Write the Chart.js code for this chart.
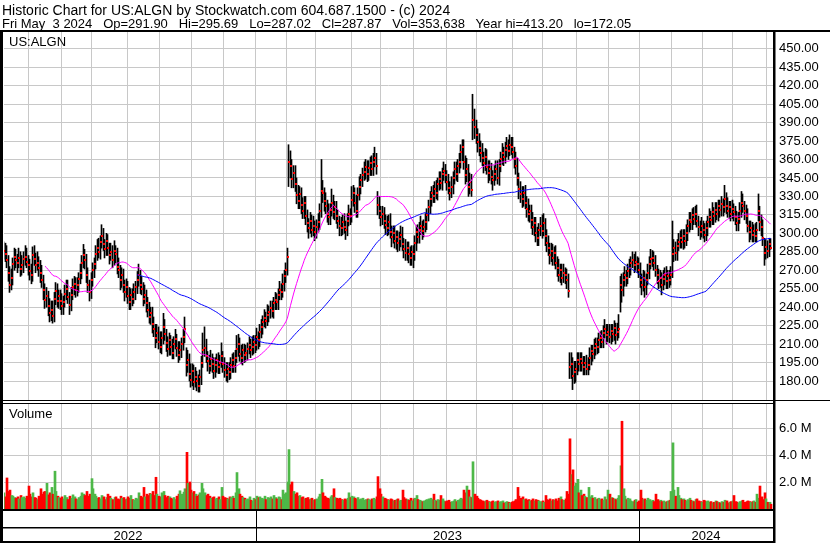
<!DOCTYPE html>
<html lang="en">
<head>
  <meta charset="UTF-8">
  <title>Historic Chart for US:ALGN</title>
  <script src="https://cdn.jsdelivr.net/npm/chart.js"></script>
  <style>
    body { margin: 0; background: #fff; }
    #wrap { position: relative; width: 830px; height: 543px; overflow: hidden; }
    #chart { position: absolute; left: 0; top: 0; }
    .head { position: absolute; left: 2px; font-family: "Liberation Sans", Arial, sans-serif; line-height: 14px; white-space: pre; color: #000; }
    .l1 { top: 2.5px; font-size: 14px; }
    .l2 { top: 16.5px; font-size: 13px; }
  </style>
</head>
<body>
<div id="wrap">
  <canvas id="chart" width="830" height="543"></canvas>
  <div class="head l1">Historic Chart for US:ALGN by Stockwatch.com 604.687.1500 - (c) 2024</div>
  <div class="head l2">Fri May  3 2024   Op=291.90   Hi=295.69   Lo=287.02   Cl=287.87   Vol=353,638   Year hi=413.20   lo=172.05</div>
</div>
<script>
// daily bars from 2022-05-04 to 2024-05-03
const closes = [
  285,283,286,283,278,268,258,264,275,281, 278,276,280,271,274,279,281,277,274,269,
  266,282,279,274,276,272,268,262,254,246, 249,241,235,238,233,247,253,245,249,245,
  241,244,251,255,248,242,250,256,259,254, 258,263,268,276,282,278,266,258,252,262,
  270,275,283,288,285,293,298,291,287,294, 288,282,285,278,286,283,273,270,262,266,
  258,252,256,249,244,250,247,252,256,262, 266,258,255,247,250,243,238,232,235,226,
  222,215,219,212,208,215,224,218,211,206, 213,208,203,210,214,207,201,205,210,216,
  222,193,197,186,181,188,179,183,180,176, 183,195,205,207,200,196,192,198,194,188,
  193,197,191,195,200,194,189,185,190,187, 193,197,192,199,206,210,202,199,205,201,
  203,206,209,205,208,212,209,216,213,220, 224,228,231,229,234,236,239,237,243,246,
  244,250,254,252,259,265,270,281,358,355, 344,349,340,331,326,332,323,318,325,314,
  308,304,310,303,306,301,305,309,318,334, 333,326,322,316,313,319,325,317,321,314,
  310,306,304,309,305,303,310,316,314,327, 333,325,318,331,338,343,347,350,354,348,
  353,357,352,358,361,355,323,318,313,316, 310,307,304,309,301,297,300,294,297,292,
  295,299,291,287,284,288,283,280,285,283, 292,301,297,303,306,302,305,309,315,321,
  328,333,330,336,333,340,344,341,348,351, 347,342,337,333,338,345,352,348,355,358,
  366,370,358,347,352,338,342,335,392,386, 380,374,369,365,361,357,362,354,349,352,
  346,343,348,352,345,355,360,365,362,368, 371,367,372,370,366,360,355,345,336,332,
  328,333,325,320,316,318,311,305,308,300, 296,303,306,302,308,298,292,288,282,286,
  280,284,276,272,266,270,264,268,266,262, 253,191,194,184,187,190,197,194,198,195,
  191,195,190,193,199,204,202,207,210,208, 213,215,212,219,222,217,220,216,221,218,
  223,217,220,222,258,254,262,266,264,269, 272,276,278,274,277,275,270,262,258,264,
  256,262,268,275,279,280,276,270,266,261, 264,258,263,266,261,265,262,266,283,288,
  284,290,293,296,293,298,294,300,306,311, 309,315,312,316,310,305,301,306,303,299,
  304,309,313,311,317,314,319,316,322,319, 324,321,328,322,318,321,316,320,317,313,
  308,312,318,325,322,318,314,306,301,304, 299,302,298,303,318,309,305,296,284,289,
  286,291,287.87
];
const highs = [
  293,290,293,292,290,282,273,271,280,288, 287,283,288,285,282,285,290,288,282,279,
  275,289,290,284,285,281,278,274,266,259, 256,253,247,245,245,252,260,259,254,254,
  251,249,258,262,262,252,256,263,265,264, 264,268,275,282,291,287,283,272,262,268,
  276,280,290,295,296,298,307,304,295,300, 299,292,292,290,294,290,288,280,274,272,
  271,262,263,261,256,255,255,259,261,269, 275,270,265,260,258,254,248,244,240,240,
  232,226,226,224,220,220,235,230,222,216, 219,217,214,216,222,218,212,212,215,222,
  232,207,205,202,194,194,193,191,188,185, 189,200,219,224,214,204,201,205,202,199,
  199,202,203,201,211,204,199,195,195,195, 199,202,203,205,217,218,215,209,210,210,
  209,211,216,214,216,217,217,223,220,226, 230,233,238,236,242,241,245,245,248,252,
  251,255,261,259,267,270,276,288,372,367, 360,355,355,345,339,338,337,329,330,330,
  319,312,317,315,314,310,311,316,324,360, 343,337,333,327,324,324,336,331,326,326,
  319,314,313,315,316,310,316,323,320,338, 339,337,331,337,346,348,353,358,360,359,
  359,362,363,365,370,365,334,330,322,322, 321,315,314,315,316,306,306,306,302,302,
  301,306,305,296,295,293,293,289,290,290, 298,306,307,309,314,310,311,316,320,327,
  334,338,339,342,343,345,350,350,353,358, 356,351,348,342,346,350,358,358,360,365,
  372,376,376,363,361,356,349,348,413,401, 392,385,381,375,373,366,369,368,359,359,
  357,351,355,359,359,360,366,373,370,374, 378,376,380,378,378,370,366,361,349,342,
  338,338,339,330,328,323,323,317,313,313, 305,308,313,315,316,312,303,298,292,292,
  291,289,290,281,279,275,275,275,272,271, 267,203,203,199,196,196,203,203,203,203,
  200,200,201,199,207,209,209,214,215,215, 219,220,221,225,230,226,226,226,226,226,
  229,227,227,234,265,267,268,273,270,275, 279,281,285,283,285,281,280,276,267,270,
  269,267,275,281,287,286,285,282,274,271, 270,268,270,272,273,270,270,273,310,295,
  293,295,300,302,303,303,303,307,311,317, 317,320,321,322,323,314,310,313,310,308,
  310,314,320,318,325,321,325,325,327,327, 330,328,339,333,329,326,326,327,324,322,
  318,317,325,334,332,326,323,320,310,310, 309,307,308,309,332,322,315,311,296,295,
  294,296,295.69
];
const lows = [
  277,275,279,277,272,261,252,254,258,270, 272,268,272,265,266,268,274,272,266,262,
  259,261,274,268,270,265,260,256,246,239, 240,233,228,229,227,228,242,240,239,238,
  234,234,240,246,243,234,237,246,250,248, 249,252,259,263,272,271,260,252,245,247,
  257,264,271,278,280,279,288,286,280,282, 282,275,278,272,274,276,267,264,254,256,
  252,245,248,243,238,238,241,243,246,251, 257,251,250,241,243,236,232,227,226,219,
  216,207,211,206,203,202,210,213,204,200, 201,201,198,198,206,200,195,197,199,205,
  211,184,187,180,175,176,173,175,172,171, 171,177,191,200,195,188,186,188,187,182,
  183,187,186,186,191,187,183,180,179,181, 182,187,187,187,195,200,196,194,193,195,
  196,197,202,199,201,202,203,205,206,208, 215,218,224,223,225,228,231,232,231,238,
  238,238,246,246,248,253,260,266,338,345, 337,337,334,324,320,320,316,312,312,307,
  301,296,300,297,298,294,296,301,303,313, 325,318,316,309,307,307,314,312,311,308,
  304,298,298,299,300,295,298,306,307,309, 322,317,313,313,327,332,338,343,344,342,
  343,347,347,347,354,348,315,312,306,307, 304,299,298,299,296,289,292,288,287,285,
  286,289,286,280,278,278,276,274,274,272, 278,286,292,292,299,295,297,301,303,310,
  316,322,325,325,328,327,335,336,335,343, 341,335,332,327,329,332,340,343,342,349,
  353,359,352,340,342,330,332,330,376,377, 373,366,363,358,355,349,351,348,341,343,
  340,335,339,343,340,339,350,356,355,357, 362,360,363,364,361,353,348,339,328,325,
  321,322,320,313,310,309,304,299,298,293, 290,290,298,296,298,290,285,282,275,277,
  274,274,271,265,261,260,258,260,259,255, 248,182,182,173,178,179,185,188,188,188,
  185,185,185,185,189,193,196,198,201,202, 203,207,207,207,215,210,212,211,210,212,
  213,210,213,215,236,244,249,257,257,259, 264,266,272,268,270,268,264,256,250,253,
  248,250,258,263,271,273,270,265,259,255, 256,250,254,258,255,255,256,258,264,277,
  278,278,286,288,288,287,288,290,294,301, 303,303,307,307,305,298,295,297,296,293,
  294,298,305,305,307,307,309,311,310,313, 314,314,317,316,313,312,310,312,310,307,
  302,302,308,313,317,311,308,301,293,295, 293,293,293,293,310,302,298,290,274,279,
  280,281,287.02
];
// volume in units of 10,000 shares
const volumes = [
  110,95,120,90,230,130,140,100,95,85, 80,90,75,100,85,90,80,95,170,110,
  90,120,85,80,70,95,150,110,125,130, 190,105,120,160,110,280,130,95,85,80,
  90,75,100,85,70,95,80,105,90,75, 70,85,95,120,110,100,130,95,110,225,
  150,110,95,80,85,75,100,90,70,85, 110,95,80,70,85,90,75,70,95,80,
  85,70,75,90,80,100,70,65,80,75, 120,95,85,160,90,110,100,115,110,130,
  100,235,110,95,90,120,130,100,85,95, 90,80,75,85,70,95,110,135,110,125,
  150,420,190,200,140,120,130,110,95,105, 120,190,150,120,100,110,95,80,85,90,
  75,80,90,70,160,95,85,80,75,90, 85,95,80,120,270,150,110,95,85,80,
  70,75,90,65,60,80,70,95,85,90, 80,75,95,70,85,80,90,75,100,85,
  75,90,85,70,140,110,120,200,440,180, 200,130,110,120,95,100,85,90,75,80,
  85,70,75,80,65,70,75,90,110,220, 120,95,85,80,75,90,100,150,85,80,
  75,80,70,65,75,70,80,120,85,95, 90,80,75,85,70,75,80,65,70,75,
  70,65,75,80,70,90,240,150,110,90, 80,75,70,65,75,70,60,65,70,75,
  60,65,140,85,75,70,65,80,60,75, 80,100,70,65,60,55,60,65,70,75,
  80,70,110,65,60,70,65,100,75,60, 55,60,65,50,55,60,70,55,65,70,
  80,75,140,120,170,140,90,85,350,110, 95,80,70,65,60,55,60,65,55,50,
  55,60,50,55,60,50,55,60,45,50, 55,50,45,50,55,60,70,160,95,80,
  90,70,75,65,70,60,65,75,60,70, 65,60,55,60,50,100,70,65,75,60,
  70,65,75,60,80,90,70,65,75,130, 110,520,255,290,170,190,220,120,140,100,
  110,95,85,160,90,100,80,85,70,75, 80,70,75,65,90,70,140,110,85,80,
  75,70,80,100,320,650,150,95,70,80, 75,60,55,65,70,50,60,140,80,70,
  75,65,80,70,60,65,55,110,70,60, 65,55,60,50,55,60,65,130,490,140,
  95,160,100,80,70,75,65,60,70,80, 65,60,55,70,75,60,55,50,65,60,
  55,60,50,55,45,50,60,55,50,45, 55,50,65,60,45,50,55,60,100,55,
  50,45,55,60,65,50,55,60,55,50, 55,60,50,110,80,170,90,70,120,75,
  50,50,35.36
];
const priceTicks = [180,195,210,225,240,255,270,285,300,315,330,345,360,375,390,405,420,435,450];
const volumeTicks = [200, 400, 600];
const holidays = [
  '2022-05-30','2022-06-20','2022-07-04','2022-09-05','2022-11-24','2022-12-26',
  '2023-01-02','2023-01-16','2023-02-20','2023-04-07','2023-05-29','2023-06-19',
  '2023-07-04','2023-09-04','2023-11-23','2023-12-25','2024-01-01','2024-01-15',
  '2024-02-19','2024-03-29'
];

const GREEN = '#4db848', RED = '#ff0000', GRAY = '#a8a8a8';

function tradingDays(start, n) {
  const out = [];
  const d = new Date(start + 'T00:00:00Z');
  while (out.length < n) {
    const dow = d.getUTCDay();
    const iso = d.toISOString().slice(0, 10);
    if (dow !== 0 && dow !== 6 && !holidays.includes(iso)) out.push(iso);
    d.setUTCDate(d.getUTCDate() + 1);
  }
  return out;
}

const days = tradingDays('2022-05-04', closes.length);
const monthStarts = [];
const yearStarts = [];
days.forEach((s, i) => {
  if (i && s.slice(5, 7) !== days[i - 1].slice(5, 7)) monthStarts.push(i);
  if (i && s.slice(0, 4) !== days[i - 1].slice(0, 4)) yearStarts.push(i);
});

function movingAvg(n) {
  const out = [];
  let sum = 0;
  closes.forEach((c, i) => {
    sum += c;
    if (i >= n) sum -= closes[i - n];
    if (i >= n - 1) out.push({ x: i, y: sum / n });
  });
  return out;
}

const volColors = closes.map((c, i) =>
  i === 0 || c > closes[i - 1] ? GREEN : c < closes[i - 1] ? RED : GRAY);

// keep thin bars and close marks on whole pixels so they stay crisp
const snap = {
  id: 'snap',
  beforeDatasetsDraw(chart) {
    chart.data.datasets.forEach((ds, di) => {
      if (ds.snapX === undefined) return;
      chart.getDatasetMeta(di).data.forEach(el => {
        if (el.$x0 === undefined) { el.$x0 = el.x; el.$y0 = el.y; }
        el.x = Math.floor(el.$x0) + ds.snapX;
        if (ds.snapY) el.y = Math.round(el.$y0);
      });
    });
  }
};

// frame, separators, panel names and year row
const frame = {
  id: 'frame',
  afterDraw(chart) {
    const ctx = chart.ctx;
    const x = chart.scales.x;
    ctx.save();
    ctx.fillStyle = '#fff';
    ctx.fillRect(3, 400, 770, 4);
    ctx.fillStyle = '#000';
    ctx.fillRect(0, 30, 830, 2);
    ctx.fillRect(0, 30, 3, 513);
    ctx.fillRect(773, 30, 2.5, 513);
    ctx.fillRect(0, 400, 773, 1);
    ctx.fillRect(0, 403, 773, 1);
    ctx.fillRect(773, 400, 57, 1);
    ctx.fillRect(0, 509, 775, 2);
    ctx.fillRect(0, 527, 775, 1.5);
    ctx.fillRect(0, 541, 775, 2);

    const edges = [0, ...yearStarts.map(i => Math.round(x.getPixelForValue(i - 0.5))), 773];
    edges.slice(1, -1).forEach(px => ctx.fillRect(px, 511, 1, 30));

    ctx.font = '13px "Liberation Sans", Arial, sans-serif';
    ctx.textBaseline = 'alphabetic';
    ctx.textAlign = 'center';
    const years = [days[0].slice(0, 4), ...yearStarts.map(i => days[i].slice(0, 4))];
    years.forEach((y, k) => ctx.fillText(y, (edges[k] + edges[k + 1]) / 2, 539.5));

    ctx.textAlign = 'left';
    ctx.fillText('US:ALGN', 9, 45.5);
    ctx.fillText('Volume', 9, 418);
    ctx.restore();
  }
};

Chart.defaults.font.family = '"Liberation Sans", Arial, sans-serif';
Chart.defaults.font.size = 13;
Chart.defaults.color = '#000';

new Chart(document.getElementById('chart'), {
  type: 'bar',
  data: {
    datasets: [
      {
        type: 'bar',
        label: 'High-Low',
        data: closes.map((c, i) => ({ x: i, y: [lows[i], highs[i]] })),
        yAxisID: 'yP',
        backgroundColor: '#000',
        barThickness: 1,
        grouped: false,
        snapX: 0.5,
        order: 4
      },
      {
        type: 'line',
        label: 'Close',
        data: closes.map((c, i) => ({ x: i, y: c })),
        yAxisID: 'yP',
        showLine: false,
        pointStyle: 'rect',
        pointRadius: 1.42,
        pointBackgroundColor: '#ff0000',
        pointBorderWidth: 0,
        snapX: 1,
        snapY: true,
        order: 3
      },
      {
        type: 'line',
        label: 'MA 30',
        data: movingAvg(30),
        yAxisID: 'yP',
        borderColor: '#ff00ff',
        borderWidth: 1,
        pointRadius: 0,
        order: 2
      },
      {
        type: 'line',
        label: 'MA 90',
        data: movingAvg(90),
        yAxisID: 'yP',
        borderColor: '#0000ff',
        borderWidth: 1,
        pointRadius: 0,
        order: 1
      },
      {
        type: 'bar',
        label: 'Volume',
        data: volumes.map((v, i) => ({ x: i, y: v })),
        yAxisID: 'yV',
        backgroundColor: volColors,
        barThickness: 2,
        grouped: false,
        snapX: 1,
        order: 5
      }
    ]
  },
  options: {
    responsive: false,
    animation: false,
    devicePixelRatio: 1,
    events: [],
    layout: { padding: { top: 32, bottom: 34, left: 3, right: 0 } },
    plugins: { legend: { display: false }, tooltip: { enabled: false } },
    scales: {
      x: {
        type: 'linear',
        min: 2.28,
        max: 503.58,
        offset: false,
        afterBuildTicks: s => { s.ticks = monthStarts.map(i => ({ value: i - 0.5 })); },
        afterFit: s => { s.height = 0; },
        ticks: { display: false },
        grid: { color: '#c8c8c8', drawTicks: false, offset: false },
        border: { display: false }
      },
      yP: {
        type: 'linear',
        position: 'right',
        stack: 'panels',
        stackWeight: 369,
        min: 163.75,
        max: 463.6,
        afterBuildTicks: s => { s.ticks = priceTicks.map(v => ({ value: v })); },
        afterFit: s => { s.width = 57; },
        ticks: { autoSkip: false, padding: 6, callback: v => v.toFixed(2) },
        grid: { color: '#c8c8c8', drawTicks: false },
        border: { display: false }
      },
      yV: {
        type: 'linear',
        position: 'right',
        stack: 'panels',
        stackWeight: 108,
        min: 0,
        max: 800,
        afterBuildTicks: s => { s.ticks = volumeTicks.map(v => ({ value: v })); },
        afterFit: s => { s.width = 57; },
        ticks: { autoSkip: false, padding: 6, callback: v => (v / 100).toFixed(1) + ' M' },
        grid: { color: '#c8c8c8', drawTicks: false },
        border: { display: false }
      }
    }
  },
  plugins: [snap, frame]
});
</script>
</body>
</html>
